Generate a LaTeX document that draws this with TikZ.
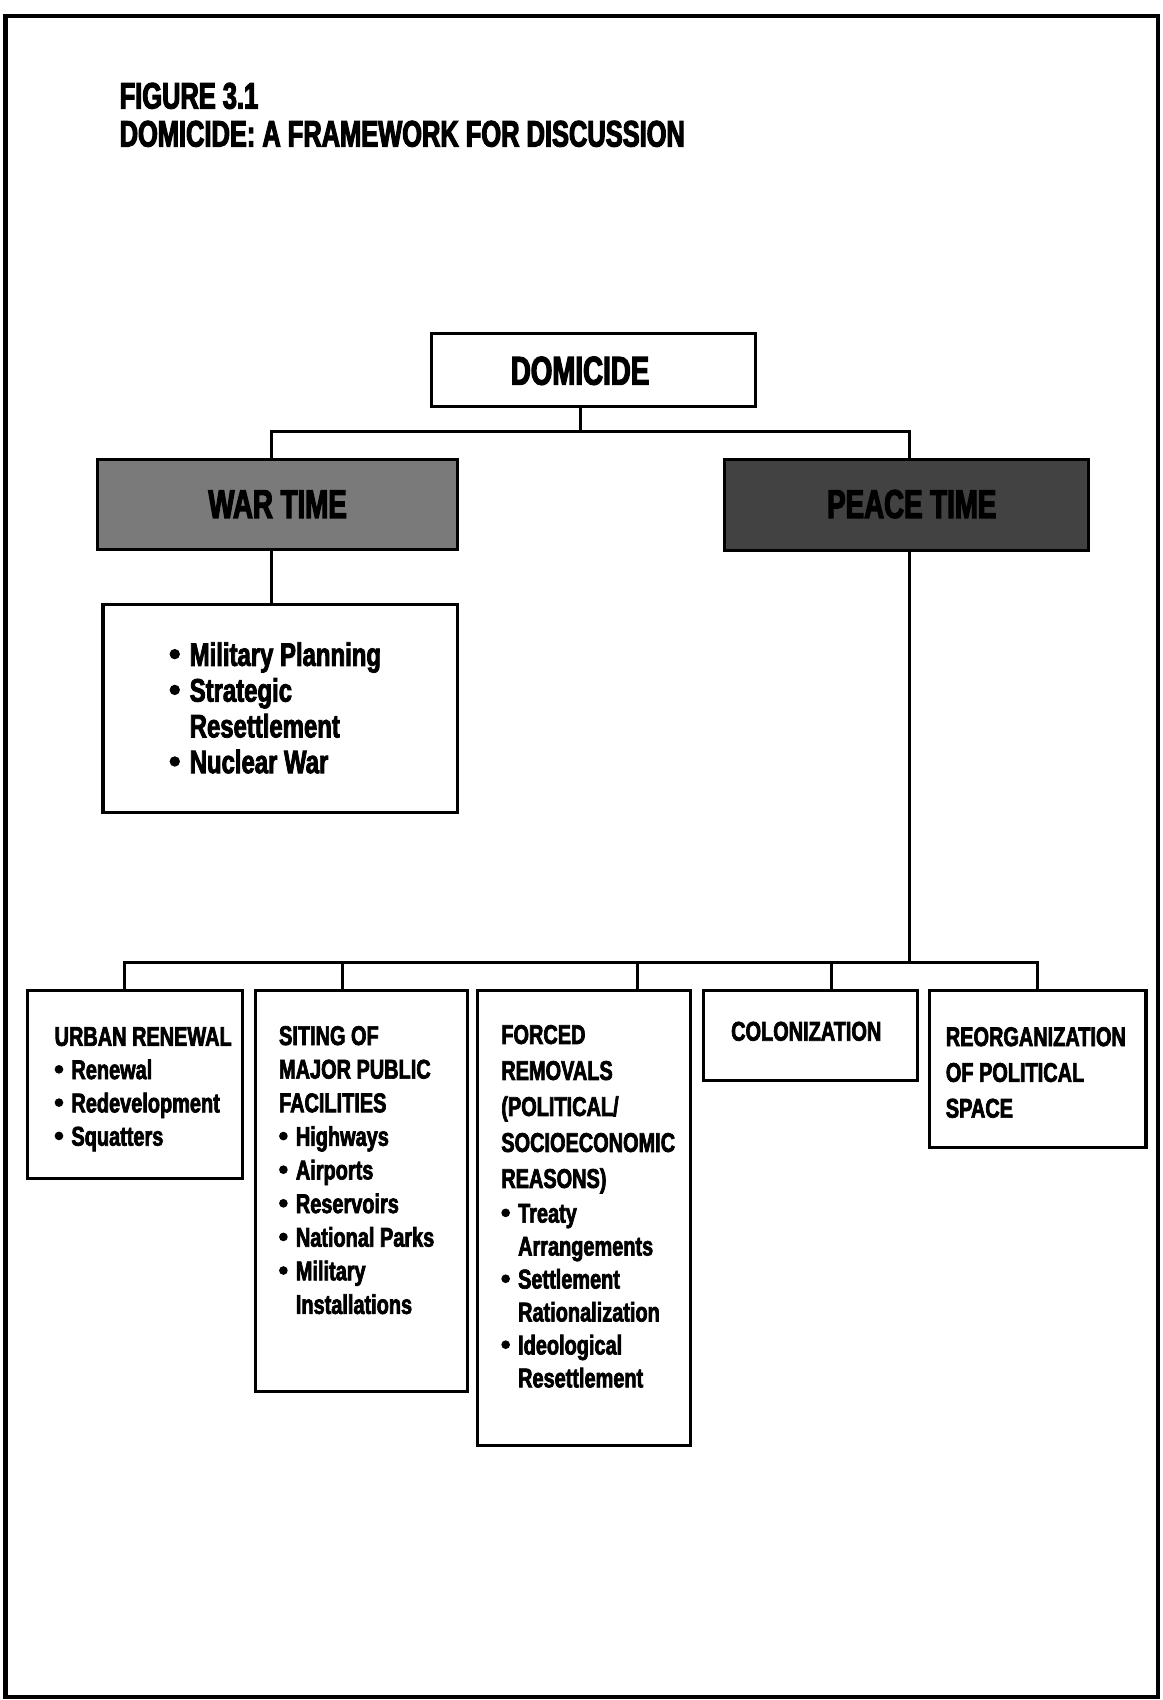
\documentclass[tikz,border=0pt]{standalone}
\usepackage{fontspec}
\setmainfont{Liberation Sans}
\newfontfamily\headfont{Liberation Sans}[FakeStretch=0.69,FakeBold=3]
\newfontfamily\bodyfont{Liberation Sans}[FakeStretch=0.735,FakeBold=2.5]
\newcommand\blt{\tikz[baseline=0pt]\fill (0.16em,0.36em) circle[radius=0.16em];\hspace{0.3em}}
\newcommand\bltsp{\hspace{0.62em}}
\usetikzlibrary{fit}
\begin{document}
\begin{tikzpicture}[x=0.5pt,y=-0.5pt,
  boxst/.style={draw, line width=1.4pt, inner sep=0pt},
  conn/.style={line width=1.4pt, line join=miter},
  headtxt/.style={inner sep=0pt, font=\headfont\bfseries\fontsize{18.5}{20}\selectfont},
  txt/.style={anchor=north west, inner sep=0pt, align=left, font=\bodyfont\bfseries\fontsize{12.5}{15.5}\selectfont},
]
\useasboundingbox (0,0) rectangle (1072,1568);
\fill[white] (0,0) rectangle (1072,1568);
\draw[line width=2pt] (5,15) rectangle (1068,1565);

% title
\node[anchor=north west, inner sep=0pt, align=left,
  font=\headfont\bfseries\fontsize{17}{17.5}\selectfont] (title) at (110,76)
  {FIGURE 3.1\\DOMICIDE: A FRAMEWORK FOR DISCUSSION};

% top level
\node[boxst, fit={(398,308) (697,375)}] (dom) {};
\node[headtxt] (domt) at (535,342) {DOMICIDE};

\node[boxst, fill=black!52, fit={(90,424) (422,507)}] (war) {};
\node[headtxt] (wart) at (256,465) {WAR TIME};

\node[boxst, fill=black!74, fit={(668,424) (1004,508)}] (peace) {};
\node[headtxt] (peacet) at (841,465) {PEACE TIME};

% war list
\node[boxst, fit={(95,558) (422,749)}] (wlist) {};
\node[txt, font=\bodyfont\bfseries\fontsize{15}{16.5}\selectfont] (wlistt) at (156,592)
  {\blt Military Planning\\
   \blt Strategic\\
   \bltsp Resettlement\\
   \blt Nuclear War};

% peace-time categories
\node[boxst, fit={(25,914) (224,1087)}] (ur) {};
\node[txt, font=\bodyfont\bfseries\fontsize{12.5}{15.35}\selectfont] (urt) at (50,947)
  {URBAN RENEWAL\\
   \blt Renewal\\
   \blt Redevelopment\\
   \blt Squatters};

\node[boxst, fit={(236,914) (431,1283)}] (sit) {};
\node[txt, font=\bodyfont\bfseries\fontsize{12.5}{15.5}\selectfont] (sitt) at (257,946)
  {SITING OF\\
   MAJOR PUBLIC\\
   FACILITIES\\
   \blt Highways\\
   \blt Airports\\
   \blt Reservoirs\\
   \blt National Parks\\
   \blt Military\\
   \bltsp Installations};

\node[boxst, fit={(440,914) (637,1333)}] (frc) {};
\node[txt, font=\bodyfont\bfseries\fontsize{12.5}{15.2}\selectfont] (frct) at (462,945)
  {FORCED\\[1.4pt]
   REMOVALS\\[1.4pt]
   (POLITICAL/\\[1.4pt]
   SOCIOECONOMIC\\[1.4pt]
   REASONS)\\[0.8pt]
   \blt Treaty\\
   \bltsp Arrangements\\
   \blt Settlement\\
   \bltsp Rationalization\\
   \blt Ideological\\
   \bltsp Resettlement};

\node[boxst, fit={(649,914) (846,997)}] (col) {};
\node[txt] (colt) at (674,942) {COLONIZATION};

\node[boxst, fit={(857,914) (1057,1058)}] (reo) {};
\node[txt, font=\bodyfont\bfseries\fontsize{12.5}{16.5}\selectfont] (reot) at (872,947)
  {REORGANIZATION\\
   OF POLITICAL\\
   SPACE};

% connectors
\coordinate (dx) at (535,398);
\coordinate (wx) at (250,0);
\coordinate (px) at (839,0);
\coordinate (bus) at (839,888);
\coordinate (b1) at (115,888);
\coordinate (b2) at (316,888);
\coordinate (b3) at (588,888);
\coordinate (b4) at (767,888);
\coordinate (b5) at (957,888);

\draw[conn] (dom.south -| dx) -- (dx);
\draw[conn] (war.north -| wx) |- (dx) -| (peace.north -| px);
\draw[conn] (war.south -| wx) -- (wlist.north -| wx);
\draw[conn] (peace.south -| px) -- (bus);
\draw[conn] (ur.north -| b1) -- (b1) -- (b5) -- (reo.north -| b5);
\draw[conn] (sit.north -| b2) -- (b2);
\draw[conn] (frc.north -| b3) -- (b3);
\draw[conn] (col.north -| b4) -- (b4);
\end{tikzpicture}
\end{document}
